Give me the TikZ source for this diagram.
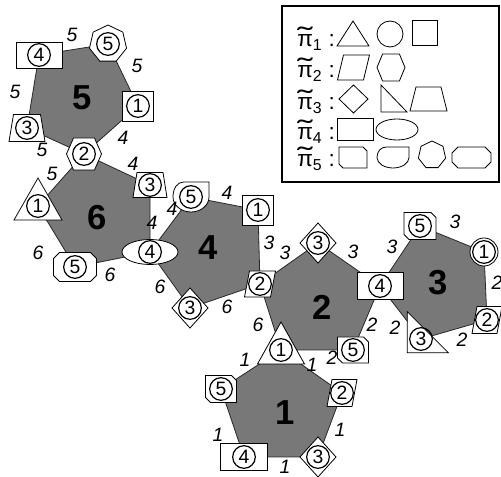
\documentclass[tikz,border=0pt]{standalone}
\usepackage{fontspec}
\setmainfont{Liberation Sans}
\definecolor{polyfill}{RGB}{120,120,120}
\definecolor{polyedge}{RGB}{40,40,40}
\newcommand\mkrect[3]{\draw[mk,shift={(#1)}] (-#2,-#3) rectangle (#2,#3);}
\newcommand\mktri[3]{\draw[mk,shift={(#1)}] (0,{-2*#3/3}) -- (#2,{#3/3}) -- (-#2,{#3/3}) -- cycle;}
\newcommand\mkpar[4]{\draw[mk,shift={(#1)}] ({-#2+#4},-#3) -- ({#2+#4},-#3) -- ({#2-#4},#3) -- ({-#2-#4},#3) -- cycle;}
\newcommand\mkhex[3]{\draw[mk,shift={(#1)}] (-#2,0) -- ({-0.6*#2},-#3) -- ({0.6*#2},-#3) -- (#2,0) -- ({0.6*#2},#3) -- ({-0.6*#2},#3) -- cycle;}
\newcommand\mkdia[3]{\draw[mk,shift={(#1)}] (-#2,0) -- (0,-#3) -- (#2,0) -- (0,#3) -- cycle;}
\newcommand\mkrt[3]{\draw[mk,shift={(#1)}] ({-#2/3},{#3/3}) -- ({-#2/3},{-2*#3/3}) -- ({2*#2/3},{#3/3}) -- cycle;}
\newcommand\mktrap[4]{\draw[mk,shift={(#1)}] (-#2,#4) -- (#2,#4) -- (#3,-#4) -- (-#3,-#4) -- cycle;}
\newcommand\mkcham[4]{\draw[mk,shift={(#1)}] (-#2,-#3) -- ({#2-#4},-#3) -- (#2,{-#3+#4}) -- (#2,#3) -- ({-#2+#4},#3) -- (-#2,{#3-#4}) -- cycle;}
\newcommand\mkoct[4]{\draw[mk,shift={(#1)}] ({-#2+#4},-#3) -- ({#2-#4},-#3) -- (#2,{-#3+#4}) -- (#2,{#3-#4}) -- ({#2-#4},#3) -- ({-#2+#4},#3) -- (-#2,{#3-#4}) -- (-#2,{-#3+#4}) -- cycle;}
\newcommand\mkhep[2]{\draw[mk,shift={(#1)}] (0,-#2) -- ({0.782*#2},{-0.623*#2}) -- ({0.975*#2},{0.223*#2}) -- ({0.434*#2},{0.901*#2}) -- ({-0.434*#2},{0.901*#2}) -- ({-0.975*#2},{0.223*#2}) -- ({-0.782*#2},{-0.623*#2}) -- cycle;}
\newcommand\mkdsh[3]{\draw[mk,shift={(#1)}] (#2,-#3) -- (#2,0) .. controls (#2,{0.55*#3}) and ({0.55*#2},#3) .. (0,#3) .. controls ({-0.55*#2},#3) and (-#2,{0.55*#3}) .. (-#2,0) .. controls (-#2,{-0.6*#3}) and ({-0.75*#2},-#3) .. ({-0.4*#2},-#3) -- cycle;}
\newcommand\mkell[3]{\draw[mk] (#1) ellipse [x radius=#2, y radius=#3];}
\newcommand\mkcirc[2]{\draw[mk] (#1) circle [radius=#2];}
\newcommand\tpi{\ooalign{π\cr\hidewidth\scalebox{2}[1.2]{\char"02DC}\hidewidth\cr}}
\begin{document}
\begin{tikzpicture}[x=0.75pt,y=-0.75pt,
  mk/.style={draw=black,fill=white,line width=0.6pt},
  poly/.style={fill=polyfill,draw=polyedge,line width=0.6pt},
  num/.style={circle,draw=black,line width=0.9pt,minimum size=17pt,inner sep=0pt,font=\fontsize{14.5}{14.5}\selectfont},
  elab/.style={font=\fontsize{14.5}{14.5}\selectfont\itshape},
  big/.style={font=\fontsize{26}{26}\selectfont\bfseries},
  leg/.style={font=\fontsize{17}{17}\selectfont,inner sep=0pt}]
\useasboundingbox (0,0) rectangle (501,477);
% vertices
\coordinate (v54) at (39,55);
\coordinate (v55) at (108,44);
\coordinate (v51) at (138,106);
\coordinate (v52) at (84,154);
\coordinate (v53) at (27,128);
\coordinate (v63) at (150,185);
\coordinate (v64) at (150,252);
\coordinate (v65) at (75,267);
\coordinate (v61) at (38,206);
\coordinate (v45) at (191,197);
\coordinate (v41) at (258,210);
\coordinate (v42) at (260,284);
\coordinate (v43) at (190,308);
\coordinate (v23) at (318,243);
\coordinate (v24) at (380,286);
\coordinate (v25) at (353,350);
\coordinate (v21) at (281,350);
\coordinate (v35) at (420,226);
\coordinate (v31) at (484,252);
\coordinate (v32) at (487,320);
\coordinate (v33) at (421,339);
\coordinate (v12) at (342,393);
\coordinate (v13) at (318,457);
\coordinate (v14) at (244,457);
\coordinate (v15) at (221,389);
% polygons
\draw[poly] (v54)--(v55)--(v51)--(v52)--(v53)--cycle;
\draw[poly] (v52)--(v63)--(v64)--(v65)--(v61)--cycle;
\draw[poly] (v64)--(v45)--(v41)--(v42)--(v43)--cycle;
\draw[poly] (v42)--(v23)--(v24)--(v25)--(v21)--cycle;
\draw[poly] (v24)--(v35)--(v31)--(v32)--(v33)--cycle;
\draw[poly] (v21)--(v12)--(v13)--(v14)--(v15)--cycle;
% markers
\mkrect{v54}{23}{13}
\mkhep{v55}{19}
\mkrect{v51}{15.5}{15}
\mkhex{v52}{17.5}{16}
\mktrap{v53}{18}{13.5}{13.5}
\mktrap{v63}{17}{13}{12.5}
\mkell{v64}{28}{12.5}
\mkoct{v65}{21.5}{14.5}{6}
\mktri{v61}{24}{42}
\mkdsh{v45}{18}{15}
\mkrect{v41}{15.5}{15}
\mkpar{v42}{13}{13}{2.5}
\mkdia{v43}{18}{20}
\mkdia{v23}{18}{20}
\mkrect{v24}{23}{13.5}
\mkcham{v25}{15.5}{13}{5}
\mktri{v21}{23.5}{42}
\mkcham{v35}{16}{13.5}{5}
\mkcirc{v31}{14}
\mkpar{v32}{12.5}{13.5}{2.5}
\mkrt{v33}{41}{41}
\mkpar{v12}{12.5}{13.5}{2.5}
\mkdia{v13}{18}{20}
\mkrect{v14}{23.5}{13.5}
\mkcham{v15}{15.5}{13.5}{5}
% circled numbers
\node[num] (n54) at (v54) {4};
\node[num] (n55) at (v55) {5};
\node[num] (n51) at (v51) {1};
\node[num] (n52) at (v52) {2};
\node[num] (n53) at (v53) {3};
\node[num] (n63) at (v63) {3};
\node[num] (n64) at (v64) {4};
\node[num] (n65) at (v65) {5};
\node[num] (n61) at (v61) {1};
\node[num] (n45) at (v45) {5};
\node[num] (n41) at (v41) {1};
\node[num] (n42) at (v42) {2};
\node[num] (n43) at (v43) {3};
\node[num] (n23) at (v23) {3};
\node[num] (n24) at (v24) {4};
\node[num] (n25) at (v25) {5};
\node[num] (n21) at (v21) {1};
\node[num] (n35) at (v35) {5};
\node[num] (n31) at (v31) {1};
\node[num] (n32) at (v32) {2};
\node[num] (n33) at (v33) {3};
\node[num] (n12) at (v12) {2};
\node[num] (n13) at (v13) {3};
\node[num] (n14) at (v14) {4};
\node[num] (n15) at (v15) {5};
% edge labels
\node[elab] (e1) at (72,35) {5};
\node[elab] (e2) at (137,66) {5};
\node[elab] (e3) at (15,92) {5};
\node[elab] (e4) at (42,150) {5};
\node[elab] (e5) at (123,138) {4};
\node[elab] (e6) at (52,174) {5};
\node[elab] (e7) at (133,164) {4};
\node[elab] (e8) at (152,223) {4};
\node[elab] (e9) at (110,275) {6};
\node[elab] (e10) at (38,253) {6};
\node[elab] (e11) at (172,209) {4};
\node[elab] (e12) at (227,193) {4};
\node[elab] (e13) at (269,243) {3};
\node[elab] (e14) at (227,307) {6};
\node[elab] (e15) at (160,287) {6};
\node[elab] (e16) at (285,253) {3};
\node[elab] (e17) at (353,252) {3};
\node[elab] (e18) at (372,325) {2};
\node[elab] (e19) at (332,358) {2};
\node[elab] (e20) at (258,325) {6};
\node[elab] (e21) at (392,247) {3};
\node[elab] (e22) at (455,222) {3};
\node[elab] (e23) at (497,283) {2};
\node[elab] (e24) at (462,340) {2};
\node[elab] (e25) at (395,328) {2};
\node[elab] (e26) at (245,360) {1};
\node[elab] (e27) at (312,365) {1};
\node[elab] (e28) at (340,430) {1};
\node[elab] (e29) at (285,467) {1};
\node[elab] (e30) at (218,435) {1};
% big labels
\node[big] (b5) at (82,98) {5};
\node[big] (b6) at (97,218) {6};
\node[big] (b4) at (208,248) {4};
\node[big] (b2) at (322,307) {2};
\node[big] (b3) at (438,283) {3};
\node[big] (b1) at (285,413) {1};
% legend
\draw[line width=0.8pt] (282,6) rectangle (499,182);
\node[leg,anchor=base west] (l1) at (297,47) {\tpi\textsubscript{1} :};
\node[leg,anchor=base west] (l2) at (297,78) {\tpi\textsubscript{2} :};
\node[leg,anchor=base west] (l3) at (297,110) {\tpi\textsubscript{3} :};
\node[leg,anchor=base west] (l4) at (297,140) {\tpi\textsubscript{4} :};
\node[leg,anchor=base west] (l5) at (297,167) {\tpi\textsubscript{5} :};
\mktri{353,37.67}{16}{25}
\mkcirc{390,34}{13}
\mkrect{424.5,32.5}{12.5}{12.5}
\mkpar{353.5,67.5}{13}{12.5}{3}
\mkhex{391,67.5}{14}{13.5}
\mkdia{353.5,99}{14.5}{14}
\mkrt{389.67,103}{26}{27}
\mktrap{428.5,99}{18.5}{12.5}{12}
\mkrect{355,129}{18}{11}
\mkell{397,129.5}{21}{10.5}
\mkcham{353,157.5}{14}{10.5}{4}
\mkdsh{393,157.5}{16}{10.5}
\mkhep{432,155}{14}
\mkoct{471.5,157.5}{19.5}{10.5}{6}
\end{tikzpicture}
\end{document}
